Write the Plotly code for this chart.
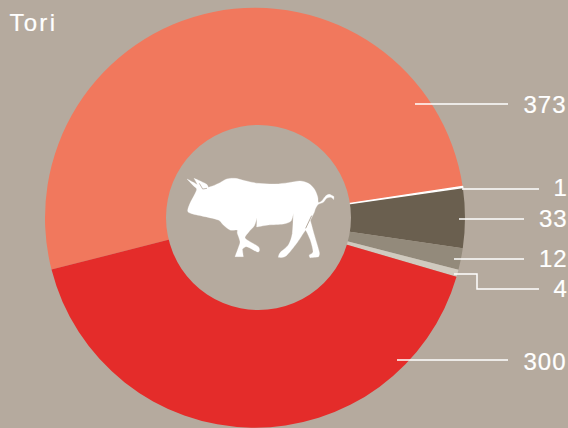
import plotly.graph_objects as go

W, H = 568, 428
categories = ["A", "B", "C", "D", "E", "F"]
values = [373, 1, 33, 12, 4, 300]
labels = ["373", "1", "33", "12", "4", "300"]
colors = ["#f1785d", "#ffffff", "#6a5f4f", "#938a7b", "#d0cabf", "#e42c2a"]
title_text = "Tori"
BG = "#b5aa9e"

label_pos = [(523, 105), (552, 188), (538, 218), (538, 258), (552, 288), (523, 361)]
leaders = [
    [(415, 104), (508, 104)],
    [(462, 189), (539, 189)],
    [(459, 219), (524, 219)],
    [(454, 259), (524, 259)],
    [(454, 274), (477, 274), (477, 289), (539, 289)],
    [(397, 360), (508, 360)],
]
bull = [(96,192),(115,202),(128,210),(117,190),(140,200),(155,208),(160,217),(175,212),(195,203),(215,192),(240,190),
        (270,197),(310,205),(360,207),(400,203),(435,198),(460,205),(478,222),(488,245),(490,262),(500,258),(510,245),
        (522,238),(537,245),(536,254),(528,247),(515,250),(505,262),(490,268),(482,280),(478,292),(466,316),(478,360),
        (493,412),(490,426),(465,428),(463,420),(474,410),(466,375),(452,345),(445,355),(425,385),(393,423),(370,427),
        (375,413),(400,390),(412,355),(415,295),(408,318),(385,327),(340,330),(305,336),(306,308),(298,332),(282,350),
        (270,368),(285,380),(310,395),(313,408),(305,410),(275,395),(262,403),(265,425),(240,425),(250,398),(255,380),
        (247,355),(246,345),(225,345),(205,330),(190,315),(150,305),(110,296),(98,288),(105,265),(118,240),(125,222),(115,212)]
sharp = {(96,192),(128,210),(117,190),(160,217),(537,245),(536,254),(478,292),(466,316),(452,345),(415,295),(306,308),
         (305,336),(240,425),(265,425),(262,403),(465,428),(490,426),(370,427),(445,355)}

def fx(x):
    return x / W

def fy(y):
    return 1 - y / H

def path(pts, close=False):
    s = "M" + " L".join(f"{fx(x):.5f},{fy(y):.5f}" for x, y in pts)
    return s + (" Z" if close else "")

def smooth(zpts):
    pts = [(155 + x/3, 115 + y/3) for x, y in zpts]
    n = len(pts)
    s = f"M{fx(pts[0][0]):.5f},{fy(pts[0][1]):.5f}"
    k = 1/7
    for i in range(n):
        p0, p1, p2, p3 = pts[i-1], pts[i], pts[(i+1) % n], pts[(i+2) % n]
        a = 0 if zpts[i] in sharp else k
        b = 0 if zpts[(i+1) % n] in sharp else k
        c1 = (p1[0] + (p2[0]-p0[0])*a, p1[1] + (p2[1]-p0[1])*a)
        c2 = (p2[0] - (p3[0]-p1[0])*b, p2[1] - (p3[1]-p1[1])*b)
        s += f" C{fx(c1[0]):.5f},{fy(c1[1]):.5f} {fx(c2[0]):.5f},{fy(c2[1]):.5f} {fx(p2[0]):.5f},{fy(p2[1]):.5f}"
    return s + " Z"

fig = go.Figure(go.Pie(
    labels=categories, values=values, sort=False, direction="clockwise", rotation=255.7,
    hole=0.3, marker=dict(colors=colors, line=dict(width=[0, 1.2, 0, 0, 0, 0], color="#ffffff")),
    textinfo="none", hoverinfo="label+value", showlegend=False,
    domain=dict(x=[45/W, 465/W], y=[0, 1-7.5/H]),
))

shapes = [dict(type="path", xref="paper", yref="paper", path=path(p),
               line=dict(color="white", width=1.5)) for p in leaders]
shapes.append(dict(type="circle", xref="paper", yref="paper", x0=fx(166), x1=fx(351), y0=fy(310), y1=fy(125),
                   fillcolor=BG, line=dict(width=0), layer="above"))
shapes.append(dict(type="path", xref="paper", yref="paper", path=smooth(bull),
                   fillcolor="white", line=dict(color="white", width=0.3)))
# thin slits of the silhouette
shapes.append(dict(type="path", xref="paper", yref="paper",
                   path=path([(155+470/3, 115+302/3), (155+452/3, 115+340/3)]),
                   line=dict(color=BG, width=1)))
shapes.append(dict(type="path", xref="paper", yref="paper",
                   path=path([(155+133/3, 115+205/3), (155+143/3, 115+222/3), (155+156/3, 115+220/3)]),
                   line=dict(color=BG, width=0.8)))

font = dict(family="Liberation Sans", size=24, color="white")
ann = [dict(x=fx(x), y=fy(y), xref="paper", yref="paper", text=t, showarrow=False,
            xanchor="left", yanchor="middle", font=font)
       for t, (x, y) in zip(labels, label_pos)]
ann.append(dict(x=fx(12), y=fy(23), xref="paper", yref="paper", text=title_text, showarrow=False,
                xanchor="left", yanchor="middle", font=font))

fig.update_layout(width=W, height=H, margin=dict(l=0, r=0, t=0, b=0),
                  paper_bgcolor=BG, plot_bgcolor=BG, shapes=shapes, annotations=ann)

post = """
document.documentElement.style.background='%s';
document.body.style.margin='0';
document.querySelectorAll('.annotation-text').forEach(function(e){
  e.style.letterSpacing = e.textContent === 'Tori' ? '2.3px' : '1px';
  e.style.stroke='white'; e.style.strokeWidth='0.2px';
});
""" % BG
fig.write_html("out.html", post_script=post, config=dict(displayModeBar=False))
